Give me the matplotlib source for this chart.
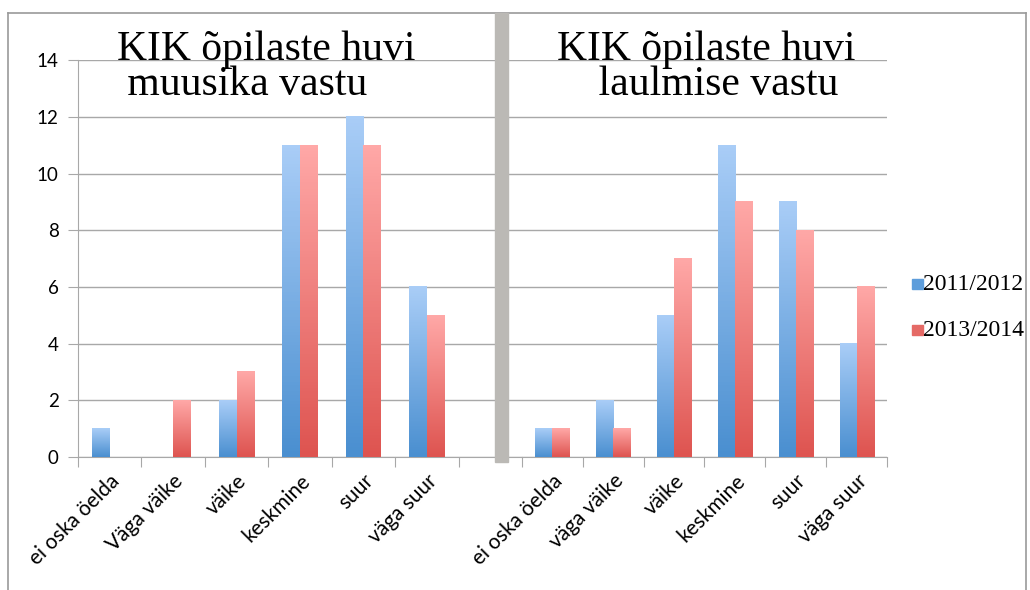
import numpy as np
import matplotlib
matplotlib.use("Agg")
import matplotlib.pyplot as plt
from matplotlib.colors import LinearSegmentedColormap
from matplotlib.patches import Rectangle
from matplotlib.lines import Line2D

# data
labels_left = ["ei oska öelda", "Väga väike", "väike", "keskmine", "suur", "väga suur"]
labels_right = ["ei oska öelda", "väga väike", "väike", "keskmine", "suur", "väga suur"]
muusika_2011 = [1, 0, 2, 11, 12, 6]
muusika_2013 = [0, 2, 3, 11, 11, 5]
laul_2011 = [1, 2, 5, 11, 9, 4]
laul_2013 = [1, 1, 7, 9, 8, 6]
series_names = ["2011/2012", "2013/2014"]

W, H = 1030, 590
fig = plt.figure(figsize=(W / 100, H / 100), dpi=100)

blue_cm = LinearSegmentedColormap.from_list("b", ["#4a8fd0", "#a9cdf7"])
red_cm = LinearSegmentedColormap.from_list("r", ["#de5450", "#ffa8a7"])
grid_c = "#a8a8a8"
tick_font = "Lato"


def px(x0, y0, x1, y1):
    return [x0 / W, 1 - y1 / H, (x1 - x0) / W, (y1 - y0) / H]


def grad_bars(ax, x, vals, width, cmap):
    bars = ax.bar(x, vals, width, color="none", edgecolor="none")
    g = np.linspace(0, 1, 100)[:, None]
    for b in bars:
        if b.get_height() <= 0:
            continue
        x0, y0 = b.get_x(), b.get_y()
        ax.imshow(g, extent=(x0, x0 + b.get_width(), y0, y0 + b.get_height()),
                  cmap=cmap, origin="lower", aspect="auto", zorder=3)
    return bars


def setup(ax, labels, nslots, first):
    ax.set_ylim(0, 14)
    ax.set_xlim(-0.5, nslots - 0.5)
    ax.set_yticks(np.arange(0, 15, 2))
    ax.grid(axis="y", color=grid_c, lw=1)
    ax.set_axisbelow(True)
    for s in ["top", "right"]:
        ax.spines[s].set_visible(False)
    ax.spines["bottom"].set_color(grid_c)
    ax.spines["left"].set_color(grid_c)
    ax.spines["left"].set_visible(first)
    n = len(labels)
    ax.set_xticks(np.arange(n + 1) - 0.5, minor=False)
    ax.set_xticklabels([])
    ax.set_xticks(np.arange(n), minor=True)
    ax.set_xticklabels(labels, minor=True, rotation=45, ha="right",
                       rotation_mode="anchor", fontsize=15, family=tick_font)
    ax.tick_params(axis="x", which="major", length=7, color=grid_c, direction="out")
    ax.tick_params(axis="x", which="minor", length=0, pad=10)
    if first:
        ax.tick_params(axis="y", length=7, color=grid_c, labelsize=13.5, pad=7)
        for t in ax.get_yticklabels():
            t.set_family(tick_font)
    else:
        ax.tick_params(axis="y", length=0, labelleft=False)
    ax.patch.set_alpha(0)


w = 0.28
ax1 = fig.add_axes(px(78, 60.3, 522, 457))
setup(ax1, labels_left, 7, True)
x = np.arange(len(labels_left))
grad_bars(ax1, x - w / 2, muusika_2011, w, blue_cm)
grad_bars(ax1, x + w / 2, muusika_2013, w, red_cm)
ax1.set_xlim(-0.5, 6.5)
ax1.set_ylim(0, 14)

ax2 = fig.add_axes(px(522, 60.3, 887, 457))
setup(ax2, labels_right, 6, False)
x = np.arange(len(labels_right))
grad_bars(ax2, x - w / 2, laul_2011, w, blue_cm)
grad_bars(ax2, x + w / 2, laul_2013, w, red_cm)
ax2.set_xlim(-0.5, 5.5)
ax2.set_ylim(0, 14)

# grey separator and outer frame
fig.add_artist(Rectangle((495 / W, 1 - 462 / H), 13 / W, 449 / H,
                         transform=fig.transFigure, color="#bbb9b5", zorder=10))
fr = "#9a9a9a"
fig.add_artist(Line2D([8 / W, 1026 / W], [1 - 13 / H] * 2, transform=fig.transFigure, color=fr, lw=1.2))
fig.add_artist(Line2D([8 / W] * 2, [0, 1 - 13 / H], transform=fig.transFigure, color=fr, lw=1.2))
fig.add_artist(Line2D([1026 / W] * 2, [0, 1 - 13 / H], transform=fig.transFigure, color=fr, lw=1.2))

# titles (two lines each, tight spacing)
tf = dict(family="Liberation Serif", fontsize=30, va="baseline", ha="left",
          zorder=11, linespacing=0.88)
fig.text(117 / W, 1 - 95 / H, "KIK õpilaste huvi\n muusika vastu", **tf)
fig.text(557 / W, 1 - 95 / H, "KIK õpilaste huvi\n    laulmise vastu", **tf)

# legend
for name, yc, c in [(series_names[0], 284, "#5d9ddb"), (series_names[1], 330, "#e56a66")]:
    fig.add_artist(Rectangle((912 / W, 1 - (yc + 5) / H), 11 / W, 10 / H,
                             transform=fig.transFigure, color=c))
    fig.text(923 / W, 1 - yc / H, name, family="Liberation Serif", fontsize=17,
             va="center", ha="left")

fig.savefig("out.png", dpi=100)
